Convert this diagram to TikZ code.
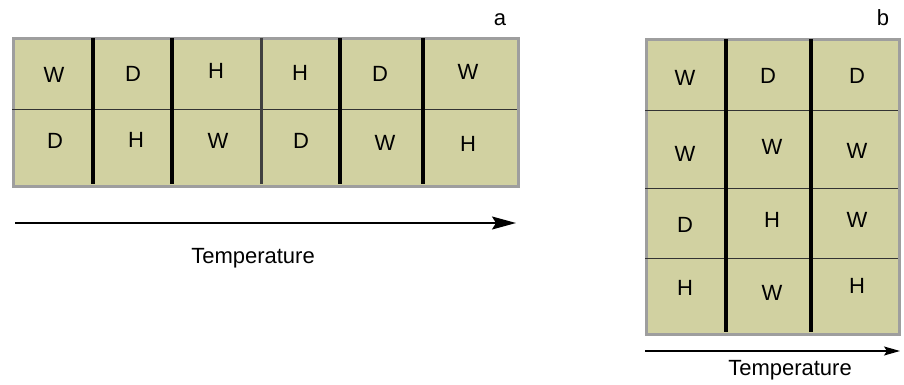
\documentclass[tikz,border=0pt]{standalone}
\usepackage{fontspec}
\setmainfont{Liberation Sans}
\usetikzlibrary{arrows.meta}
\begin{document}
\begin{tikzpicture}[x=1pt,y=-1pt,
  panel/.style={draw=black!38, line width=3pt, fill=boxfill},
  divider/.style={line width=3.3pt, black},
  joint/.style={line width=3pt, black!75},
  rowline/.style={line width=0.9pt, black!80},
  cell/.style={inner sep=0pt, font=\fontsize{22}{26}\selectfont},
  tag/.style={inner sep=0pt, font=\fontsize{22}{26}\selectfont},
  axis/.style={line width=1.5pt, black}]
\definecolor{boxfill}{RGB}{209,209,161}
\useasboundingbox (0,0) rectangle (904,385);
% ---------- panel a ----------
\node[panel, minimum width=505pt, minimum height=148pt, inner sep=0pt, anchor=north west] (pa) at (12,37) {};
\coordinate (ra1) at (12,109); \coordinate (ra2) at (517,109);
\draw[rowline] (ra1) -- (ra2);
\foreach \i/\x in {1/93,2/172,4/340,5/423}{
  \coordinate (at\i) at (\x,38); \coordinate (ab\i) at (\x,184);
  \draw[divider] (at\i) -- (ab\i);}
\coordinate (at3) at (261,38); \coordinate (ab3) at (261,184);
\draw[joint] (at3) -- (ab3);
\node[cell] (a11) at (54,75) {W};
\node[cell] (a12) at (133,74) {D};
\node[cell] (a13) at (216,71) {H};
\node[cell] (a14) at (300,73) {H};
\node[cell] (a15) at (380,74) {D};
\node[cell] (a16) at (468,72) {W};
\node[cell] (a21) at (55,141) {D};
\node[cell] (a22) at (136,140) {H};
\node[cell] (a23) at (218,141) {W};
\node[cell] (a24) at (301,141) {D};
\node[cell] (a25) at (385,143) {W};
\node[cell] (a26) at (468,144) {H};
\node[tag] (la) at (500,20) {a};
\coordinate (xa0) at (15,223); \coordinate (xa1) at (516,223);
\draw[axis, -{Stealth[length=24pt,width=13pt,inset=4pt]}] (xa0) -- (xa1);
\node[tag] (ta) at (253,258) {Temperature};
% ---------- panel b ----------
\node[panel, minimum width=253pt, minimum height=295pt, inner sep=0pt, anchor=north west] (pb) at (645,38) {};
\foreach \j/\y in {1/110,2/188,3/258}{
  \coordinate (rb\j) at (645,\y); \coordinate (re\j) at (898,\y);
  \draw[rowline] (rb\j) -- (re\j);}
\foreach \i/\x in {1/726,2/811}{
  \coordinate (bt\i) at (\x,39); \coordinate (bb\i) at (\x,332);
  \draw[divider] (bt\i) -- (bb\i);}
\node[cell] (b11) at (685,78) {W};
\node[cell] (b12) at (768,76) {D};
\node[cell] (b13) at (857,76) {D};
\node[cell] (b21) at (685,154) {W};
\node[cell] (b22) at (772,147) {W};
\node[cell] (b23) at (857,151) {W};
\node[cell] (b31) at (685,225) {D};
\node[cell] (b32) at (772,220) {H};
\node[cell] (b33) at (857,220) {W};
\node[cell] (b41) at (685,288) {H};
\node[cell] (b42) at (772,293) {W};
\node[cell] (b43) at (857,286) {H};
\node[tag] (lb) at (883,18) {b};
\coordinate (xb0) at (645,351); \coordinate (xb1) at (900,351);
\draw[axis, line width=1.2pt, -{Stealth[length=16pt,width=9pt,inset=3pt]}] (xb0) -- (xb1);
\node[tag] (tb) at (790,370) {Temperature};
\end{tikzpicture}
\end{document}
